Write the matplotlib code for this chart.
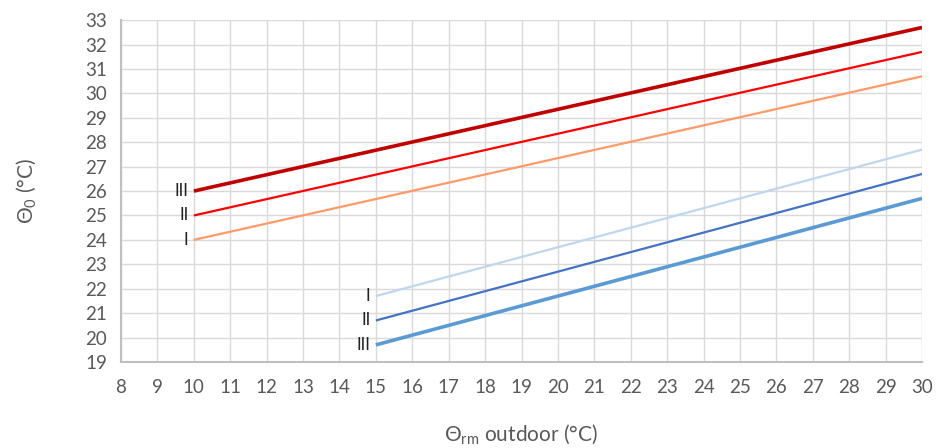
import numpy as np
import matplotlib.pyplot as plt

plt.rcParams['font.family'] = ['Lato', 'DejaVu Sans']

# upper limits (start at 10), lower limits (start at 15)
x_upper = [10, 30]
upper_I = [24.0, 30.7]
upper_II = [25.0, 31.7]
upper_III = [26.0, 32.7]

x_lower = [15, 30]
lower_I = [21.7, 27.7]
lower_II = [20.7, 26.7]
lower_III = [19.7, 25.7]

fig = plt.figure(figsize=(9.38, 4.48), dpi=100)
ax = fig.add_axes([0.129, 0.192, 0.854, 0.763])

series = [
    (x_upper, upper_I, '#FF9966', 1.6, 'I'),
    (x_upper, upper_II, '#FF0000', 1.6, 'II'),
    (x_upper, upper_III, '#C00000', 2.6, 'III'),
    (x_lower, lower_I, '#BDD7EE', 1.6, 'I'),
    (x_lower, lower_II, '#4472C4', 1.6, 'II'),
    (x_lower, lower_III, '#5B9BD5', 2.6, 'III'),
]
for xs, ys, c, lw, lab in series:
    ax.plot(xs, ys, color=c, lw=lw, solid_capstyle='butt')
    ax.text(xs[0] - 0.15, ys[0], lab, ha='right', va='center',
            fontsize=12, color='#222222')

ax.set_xlim(8, 30)
ax.set_ylim(19, 33)
ax.set_xticks(np.arange(8, 31, 1))
ax.set_yticks(np.arange(19, 34, 1))
ax.grid(True, color='#D9D9D9', lw=1)
ax.set_axisbelow(True)
ax.tick_params(length=0, labelsize=13.5, colors='#595959')
ax.tick_params(axis='x', pad=12)
ax.tick_params(axis='y', pad=10)
for s in ['top', 'right']:
    ax.spines[s].set_visible(False)
for s in ['left', 'bottom']:
    ax.spines[s].set_color('#BFBFBF')
    ax.spines[s].set_linewidth(1.5)

ax.set_xlabel(r'$\mathregular{\Theta_{rm}}$ outdoor (°C)', fontsize=15, color='#595959', labelpad=19)
ax.set_ylabel(r'$\mathregular{\Theta_{0}}$ (°C)', fontsize=15, color='#595959', labelpad=34)

fig.savefig('out.png', dpi=100)
